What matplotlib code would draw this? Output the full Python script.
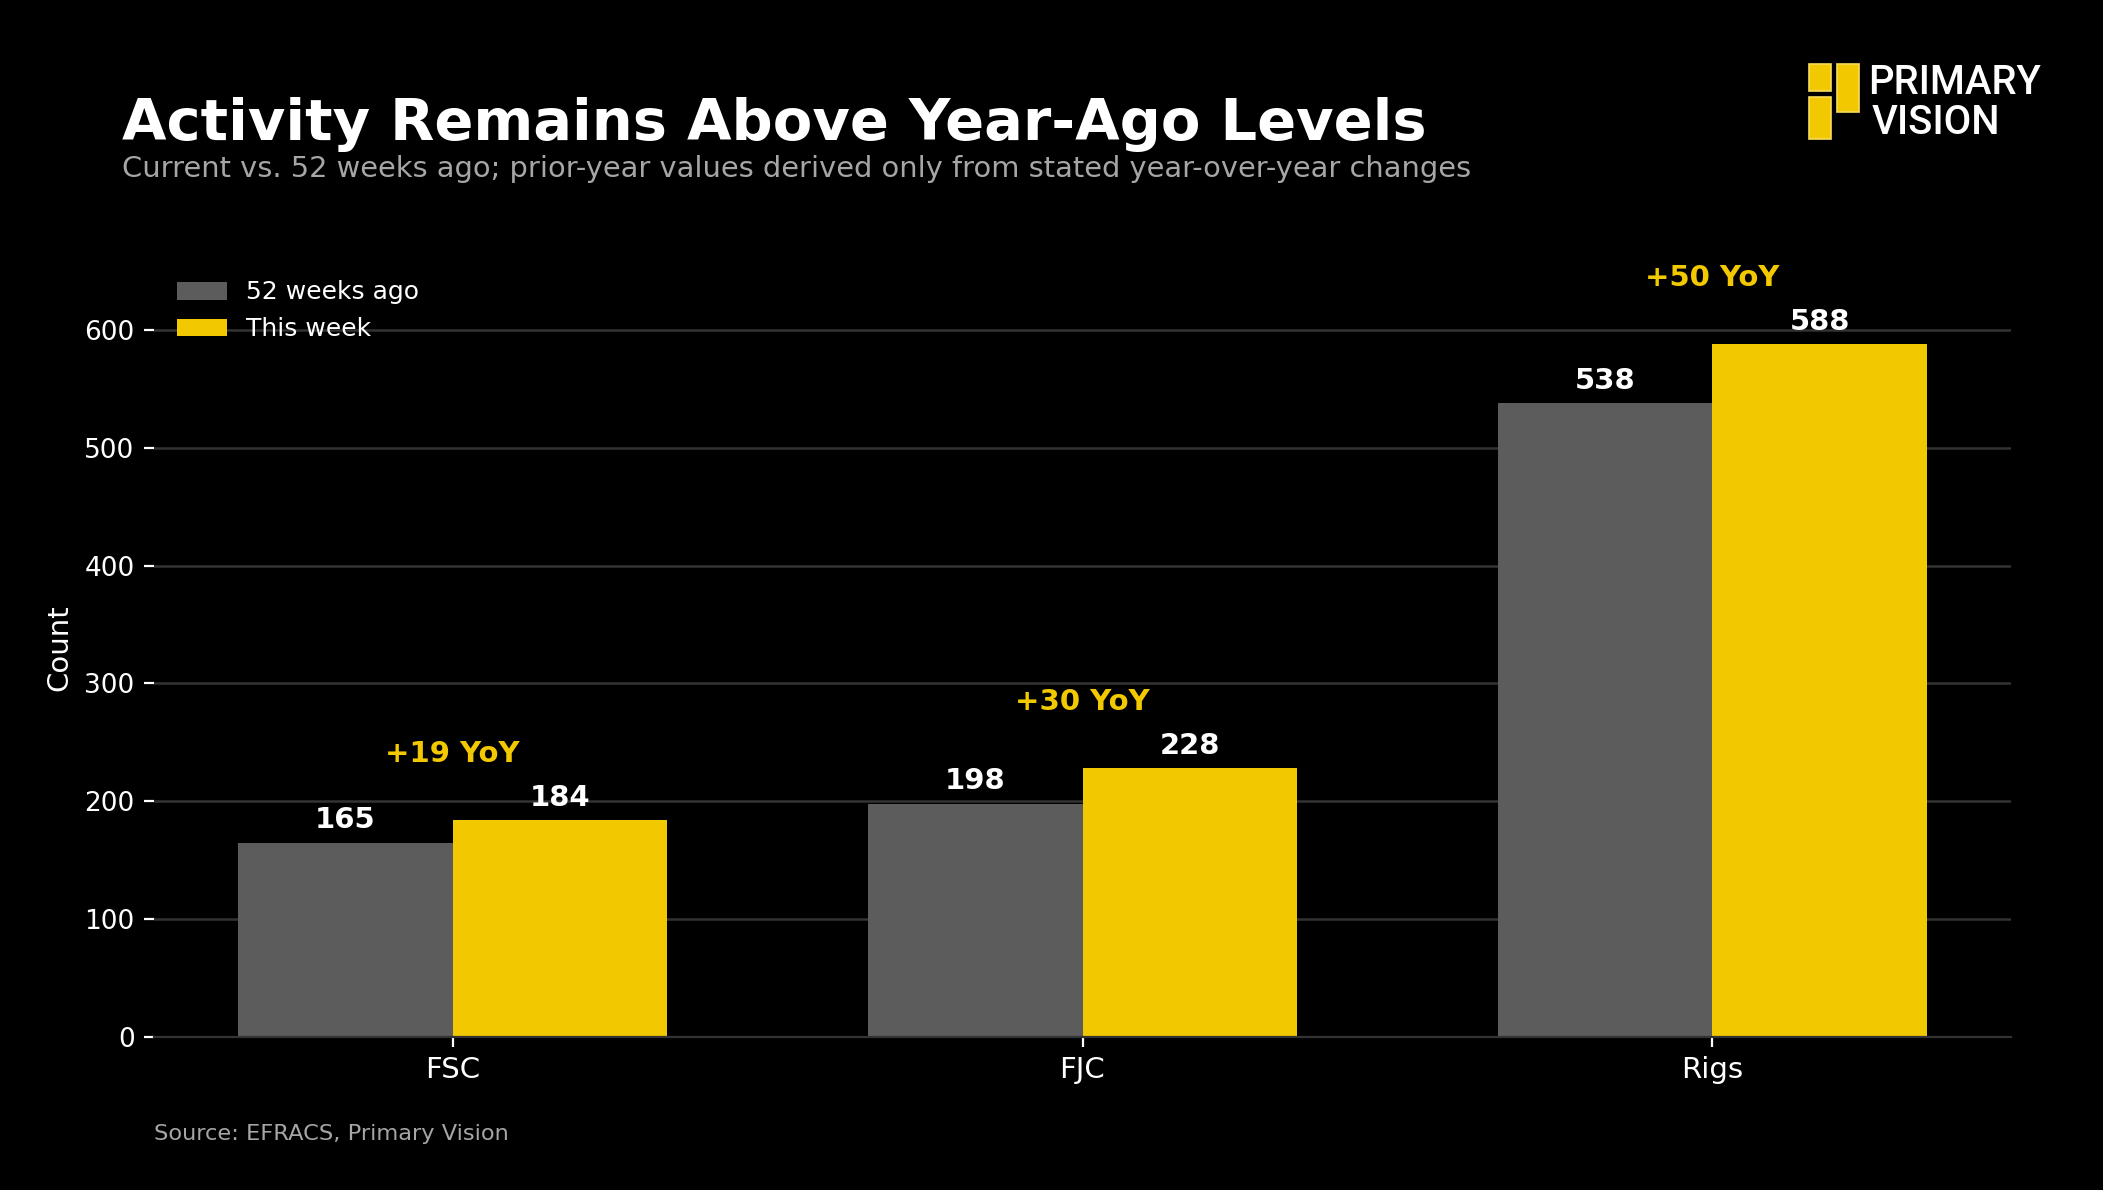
import matplotlib
matplotlib.use("Agg")
import matplotlib.pyplot as plt
from matplotlib.patches import Rectangle
import numpy as np

categories = ["FSC", "FJC", "Rigs"]
prior_year = [165, 198, 538]
this_week = [184, 228, 588]
yoy_labels = ["+19 YoY", "+30 YoY", "+50 YoY"]
series_names = ["52 weeks ago", "This week"]

title = "Activity Remains Above Year-Ago Levels"
subtitle = "Current vs. 52 weeks ago; prior-year values derived only from stated year-over-year changes"
source = "Source: EFRACS, Primary Vision"

BG = "#000000"
GRAY = "#5c5c5c"
GOLD = "#f2c800"
GRID = "#333333"
MUTED = "#a6a6a6"

plt.rcParams['font.family'] = ['DejaVu Sans']
W, H, DPI = 2103, 1190, 200
fig = plt.figure(figsize=(W / DPI, H / DPI), dpi=DPI, facecolor=BG)

def fx(px):
    return px / W

def fy(py):
    return 1 - py / H

ax = fig.add_axes([fx(154), fy(1037), fx(2011) - fx(154), fy(258) - fy(1037)])
ax.set_facecolor(BG)

x = np.arange(len(categories))
w = 0.34
b1 = ax.bar(x - w / 2, prior_year, w, color=GRAY, label=series_names[0], zorder=2)
b2 = ax.bar(x + w / 2, this_week, w, color=GOLD, label=series_names[1], zorder=2)

for bars, vals in ((b1, prior_year), (b2, this_week)):
    for rect, v in zip(bars, vals):
        ax.annotate(f"{v}", (rect.get_x() + rect.get_width() / 2, v),
                    xytext=(0, 3), textcoords="offset points",
                    ha="center", va="bottom", color="white",
                    fontsize=10.5, fontweight="bold", zorder=3)

for xi, a, b, lab in zip(x, prior_year, this_week, yoy_labels):
    ax.text(xi, max(a, b) + 56, lab, ha="center", va="center",
            color=GOLD, fontsize=10.5, fontweight="bold", zorder=3)

ax.set_ylim(0, max(this_week) * 1.124)
ax.set_yticks([0, 100, 200, 300, 400, 500, 600])
ax.set_xticks(x)
ax.set_xticklabels(categories, fontsize=10.5, color="white")
ax.tick_params(axis="y", colors="white", labelsize=9.5, length=3.5)
ax.tick_params(axis="x", colors="white", length=3.5)
ax.grid(axis="y", color=GRID, linewidth=0.9, zorder=0)
ax.set_axisbelow(True)
for s in ("top", "right", "left"):
    ax.spines[s].set_visible(False)
ax.spines["bottom"].set_color(GRID)
ax.set_ylabel("Count", color="white", fontsize=10.5)

leg = ax.legend(loc="upper left", frameon=False, fontsize=9, labelcolor="white")

fig.text(fx(122), fy(140), title, color="white", fontsize=20.7,
         fontweight="bold", ha="left", va="baseline")
fig.text(fx(122), fy(177), subtitle, color=MUTED, fontsize=10.4,
         ha="left", va="baseline")
fig.text(fx(154), fy(1140), source, color=MUTED, fontsize=8.1,
         ha="left", va="baseline")

# logo
for (x0, y0, x1, y1) in [(1809, 64, 1831, 91), (1809, 97, 1831, 139), (1837, 64, 1859, 112)]:
    fig.patches.append(Rectangle((fx(x0), fy(y1)), fx(x1) - fx(x0), fy(y0) - fy(y1),
                                 transform=fig.transFigure, facecolor=GOLD,
                                 edgecolor="#f7dc5a", linewidth=0.6))
fig.text(fx(1868), fy(94), "PRIMARY", color="white", fontsize=14.4,
         family=["Roboto", "DejaVu Sans"], fontweight="medium", ha="left", va="baseline")
fig.text(fx(1872), fy(134), "VISION", color="white", fontsize=14.4,
         family=["Roboto", "DejaVu Sans"], fontweight="medium", ha="left", va="baseline")

fig.savefig("out.png", dpi=DPI, facecolor=BG)
